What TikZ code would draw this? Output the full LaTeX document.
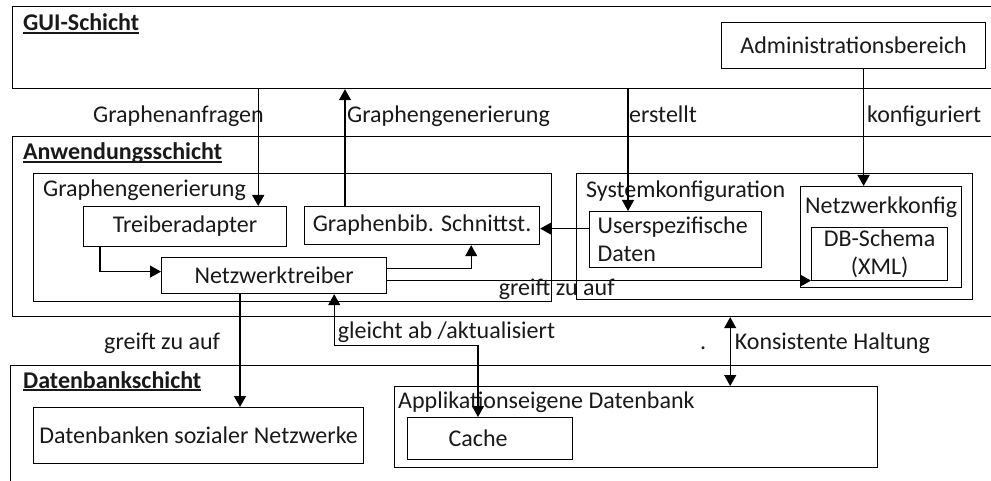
\documentclass[tikz,border=0pt]{standalone}
\usepackage{fontspec}
\setmainfont{Carlito}
\usepackage{tikz}
\usetikzlibrary{arrows.meta,positioning,calc}
% bold title with a low underline
\newcommand{\lyr}[1]{\setbox0\hbox{\bfseries #1}\rlap{\rule[-2.6pt]{\wd0}{1.3pt}}\box0}
\tikzset{
  box/.style={draw,anchor=north west,inner sep=0pt,line width=1.2pt},
  lbl/.style={anchor=base west,inner sep=0pt},
  arr/.style={-{Triangle[length=11pt,width=12pt]},line width=1.2pt},
  arr2/.style={{Triangle[length=11pt,width=12pt]}-{Triangle[length=11pt,width=12pt]},line width=1.2pt},
}

\begin{document}
\begin{tikzpicture}[x=1pt,y=-1pt,every node/.style={font=\fontsize{24}{28}\selectfont,text=black!90}]
 \useasboundingbox (0,0) rectangle (991,481);
 \clip (0,0) rectangle (991,481);
 % layers
 \node[box,minimum width=990pt,minimum height=82pt] (gui) at (12,6) {};
 \node[box,minimum width=990pt,minimum height=180pt] (anw) at (12,136) {};
 \node[box,minimum width=995pt,minimum height=130pt] (db) at (10,365) {};
 \node[lbl] (tgui) at (23,31) {\lyr{GUI-Schicht}};
 \node[lbl] (tanw) at (23,160) {\lyr{Anwendungsschicht}};
 \node[lbl] (tdb) at (23,388) {\lyr{Datenbankschicht}};
 % GUI
 \node[box,minimum width=264pt,minimum height=46pt] (admin) at (721,22) {Administrationsbereich};
 % Anwendung
 \node[box,minimum width=518pt,minimum height=128pt] (gen) at (33,173) {};
 \node[lbl] (tgen) at (43,197) {Graphengenerierung};
 \node[box,minimum width=203pt,minimum height=40pt] (treiber) at (83,206) {Treiberadapter};
 \node[box,minimum width=235pt,minimum height=38pt] (gbib) at (304,206) {Graphenbib. Schnittst.};
 \node[box,minimum width=225pt,minimum height=36pt] (netz) at (161,257) {Netzwerktreiber};
 \node[box,minimum width=396pt,minimum height=126pt] (syskonf) at (576,173) {};
 \node[lbl] (tsys) at (586,198) {Systemkonfiguration};
 \node[box,inner xsep=8pt,text width=156pt,align=left,minimum height=56pt] (user) at (589,211) {Userspezifische\\Daten};
 \node[box,minimum width=161pt,minimum height=101pt] (netzkonf) at (800,186) {};
 \node[lbl] (tnk) at (805,214) {Netzwerkkonfig};
 \node[box,minimum width=136pt,minimum height=53pt,align=center] (dbschema) at (811,227) {DB-Schema\\(XML)};
 % Datenbank
 \node[box,minimum width=330pt,minimum height=56pt] (dbsoz) at (33,407) {Datenbanken sozialer Netzwerke};
 \node[box,minimum width=483pt,minimum height=81pt] (appdb) at (394,386) {};
 \node[lbl] (tapp) at (398,408) {Applikationseigene Datenbank};
 \node[box,inner xsep=41pt,text width=83pt,align=left,minimum height=42pt] (cache) at (407,417) {Cache};
 % labels between the layers
 \node[lbl] (lanfr) at (93,123) {Graphenanfragen};
 \node[lbl] (lgen) at (347,123) {Graphengenerierung};
 \node[lbl] (lerst) at (629,123) {erstellt};
 \node[lbl] (lkonf) at (867,123) {konfiguriert};
 \node[lbl] (lgreif) at (104,349) {greift zu auf};
 \node[lbl] (ldot) at (700,349) {.};
 % connectors
 \draw[arr] ([xshift=-29pt]treiber.north east |- gui.south) -- ([xshift=-29pt]treiber.north east);
 \draw[arr] ([xshift=41pt]gbib.north west) -- ([xshift=41pt]gbib.north west |- gui.south);
 \draw[arr] ([xshift=39pt]user.north west |- gui.south) -- ([xshift=39pt]user.north west);
 \draw[arr] ([xshift=10pt]admin.south) -- ([xshift=10pt]admin.south |- netzkonf.north);
 \draw[arr] ([xshift=17pt]treiber.south west) |- ([yshift=4pt]netz.west);
 \draw[arr] ([yshift=7pt]netz.east) -| ([xshift=-69pt]gbib.south east);
 \draw[arr] ([yshift=-5pt]netz.east) -- ([yshift=-5pt]netz.east -| dbschema.west)
   node[pos=0.4,anchor=north,inner sep=0pt,yshift=2pt] (lzu) {greift zu auf};
 \draw[arr] ([yshift=11pt]user.west) -- ([yshift=11pt]user.west -| gbib.east);
 \draw[arr] ([xshift=79pt]netz.south west) -- ([xshift=79pt]netz.south west |- dbsoz.north);
 \draw[arr2] ([xshift=-53pt]netz.south east) -- ++(0,51)
   node[lbl,xshift=3pt,yshift=7pt] (lgleich) {gleicht ab /aktualisiert}
   -| ([xshift=71pt]cache.north west);
 \draw[arr2] ([xshift=-148pt]appdb.north east |- anw.south) -- ([xshift=-148pt]appdb.north east)
   node[midway,lbl,xshift=4pt,yshift=2pt] (lkons) {Konsistente Haltung};
\end{tikzpicture}
\end{document}
